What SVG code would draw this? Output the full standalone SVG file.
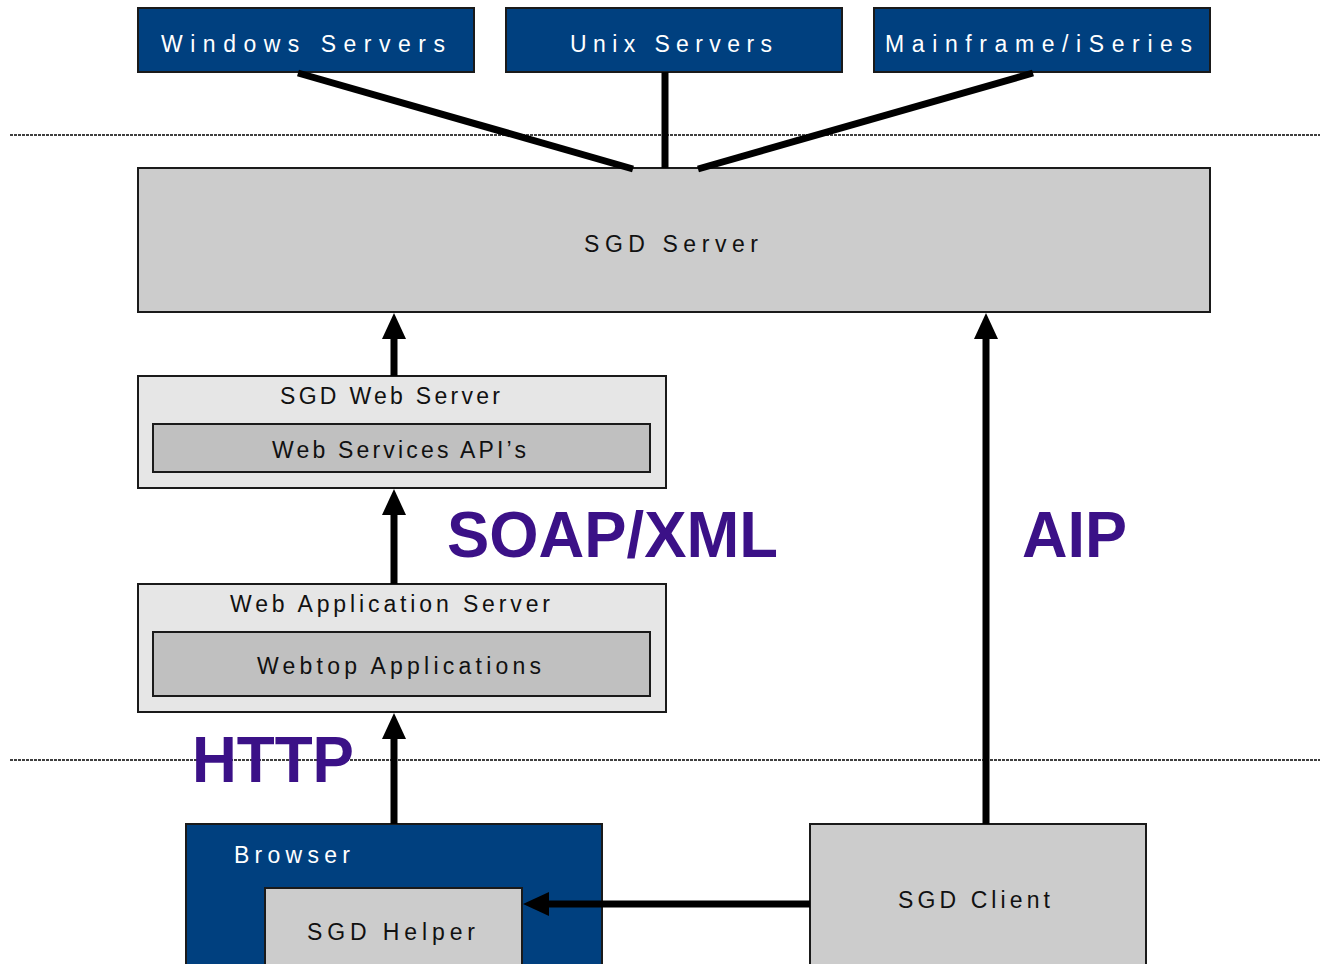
<svg xmlns="http://www.w3.org/2000/svg" width="1322" height="964" viewBox="0 0 1322 964">
<style>
.bg{fill:#ffffff}
.blue{fill:#00407F;stroke:#1a1a1a;stroke-width:2}
.grey{fill:#CCCCCC;stroke:#1a1a1a;stroke-width:2}
.light{fill:#E6E6E6;stroke:#1a1a1a;stroke-width:2}
.inner{fill:#C0C0C0;stroke:#1a1a1a;stroke-width:2}
.t{font-family:"Liberation Sans",Arial,sans-serif;font-size:23px;fill:#111}
.tw{font-family:"Liberation Sans",Arial,sans-serif;font-size:23px;fill:#ffffff}
.big{font-family:"Liberation Sans",Arial,sans-serif;font-size:64px;font-weight:bold;fill:#3B1187}
.sep{stroke:#000;stroke-width:1.5;stroke-dasharray:3,1;fill:none}
.conn{stroke:#000;stroke-width:7;fill:none}
.arr{stroke:#000;stroke-width:7;fill:none;marker-end:url(#ah)}
</style>
<defs>
<marker id="ah" markerUnits="userSpaceOnUse" markerWidth="26" markerHeight="24" refX="0" refY="12" orient="auto" viewBox="0 0 26 24">
<path d="M0,0 L26,12 L0,24 z" fill="#000"/>
</marker>
</defs>
<rect class="bg" x="0" y="0" width="1322" height="964"/>
<line class="sep" x1="10" y1="135" x2="1320" y2="135"/>
<line class="sep" x1="10" y1="760" x2="1320" y2="760"/>

<g id="windows-servers">
<rect class="blue" x="138" y="8" width="336" height="64"/>
<text class="tw" x="161" y="52" textLength="284" lengthAdjust="spacing">Windows Servers</text>
</g>
<g id="unix-servers">
<rect class="blue" x="506" y="8" width="336" height="64"/>
<text class="tw" x="570" y="52" textLength="202" lengthAdjust="spacing">Unix Servers</text>
</g>
<g id="mainframe">
<rect class="blue" x="874" y="8" width="336" height="64"/>
<text class="tw" x="885" y="52" textLength="307" lengthAdjust="spacing">Mainframe/iSeries</text>
</g>
<g id="sgd-server">
<rect class="grey" x="138" y="168" width="1072" height="144"/>
<text class="t" x="584" y="252" textLength="174" lengthAdjust="spacing">SGD Server</text>
</g>
<g id="sgd-web-server">
<rect class="light" x="138" y="376" width="528" height="112"/>
<text class="t" x="280" y="404" textLength="220" lengthAdjust="spacing">SGD Web Server</text>
<rect class="inner" x="153" y="424" width="497" height="48"/>
<text class="t" x="272" y="458" textLength="254" lengthAdjust="spacing">Web Services API’s</text>
</g>
<g id="web-app-server">
<rect class="light" x="138" y="584" width="528" height="128"/>
<text class="t" x="230" y="612" textLength="320" lengthAdjust="spacing">Web Application Server</text>
<rect class="inner" x="153" y="632" width="497" height="64"/>
<text class="t" x="257" y="674" textLength="284" lengthAdjust="spacing">Webtop Applications</text>
</g>
<g id="browser">
<rect class="blue" x="186" y="824" width="416" height="150"/>
<text class="tw" x="234" y="863" textLength="116" lengthAdjust="spacing">Browser</text>
</g>
<g id="sgd-helper">
<rect class="grey" x="265" y="888" width="257" height="90"/>
<text class="t" x="307" y="940" textLength="168" lengthAdjust="spacing">SGD Helper</text>
</g>
<g id="sgd-client">
<rect class="grey" x="810" y="824" width="336" height="150"/>
<text class="t" x="898" y="908" textLength="152" lengthAdjust="spacing">SGD Client</text>
</g>

<g id="connectors">
<line class="conn" x1="298" y1="73" x2="633" y2="169"/>
<line class="conn" x1="665" y1="72" x2="665" y2="168"/>
<line class="conn" x1="1033" y1="73" x2="698" y2="169"/>
<line class="arr" x1="394" y1="376" x2="394" y2="339"/>
<line class="arr" x1="394" y1="584" x2="394" y2="515"/>
<line class="arr" x1="394" y1="824" x2="394" y2="739"/>
<line class="arr" x1="986" y1="824" x2="986" y2="339"/>
<line class="arr" x1="810" y1="904" x2="549" y2="904"/>
</g>

<text class="big" x="447" y="557" textLength="331" lengthAdjust="spacingAndGlyphs">SOAP/XML</text>
<text class="big" x="1022" y="557" textLength="105" lengthAdjust="spacingAndGlyphs">AIP</text>
<text class="big" x="192" y="782" textLength="162" lengthAdjust="spacingAndGlyphs">HTTP</text>
</svg>
